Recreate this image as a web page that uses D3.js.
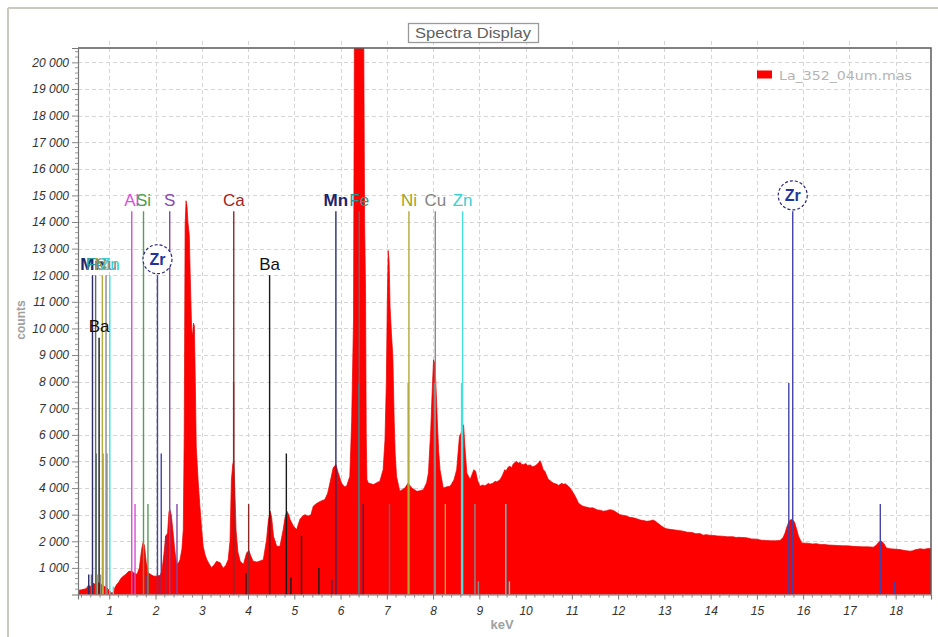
<!DOCTYPE html>
<html><head><meta charset="utf-8">
<script src="https://cdn.jsdelivr.net/npm/d3@7"></script>
<style>body{margin:0;background:#fff;} svg{display:block;}</style>
</head><body>
<svg id="c" width="938" height="637"></svg>
<script>
// ---------- data ----------
// spectrum: [keV, counts]
const spectrum = [
[0.32,150],[0.40,180],[0.50,220],[0.55,350],[0.60,300],[0.65,420],[0.70,380],[0.75,450],[0.80,400],[0.85,350],[0.90,300],[0.95,250],[1.00,150],[1.05,60],[1.10,80],
[1.12,250],[1.16,380],[1.20,450],[1.25,600],[1.30,690],[1.36,760],[1.42,870],[1.48,880],[1.54,800],[1.60,760],[1.65,1000],[1.70,1700],[1.73,1950],[1.76,1850],[1.80,1200],[1.84,820],
[1.90,750],[1.95,700],[2.00,690],[2.05,700],[2.10,720],[2.14,900],[2.18,1500],[2.22,2200],[2.26,2300],[2.29,3100],[2.31,3200],[2.34,3000],[2.38,2330],[2.42,1600],[2.46,1130],
[2.50,1200],[2.53,1310],[2.57,1700],[2.60,2440],[2.62,6000],[2.64,13900],[2.66,14800],[2.68,14600],[2.70,14000],[2.73,13500],[2.75,12000],[2.78,10000],[2.80,9700],[2.82,10200],[2.84,10100],[2.86,8000],[2.88,5570],
[2.92,4300],[2.96,3300],[3.00,2400],[3.03,1810],[3.07,1500],[3.11,1310],[3.16,1150],[3.21,1010],[3.26,1100],[3.32,1250],[3.36,1220],[3.40,1190],[3.44,1050],[3.47,1000],[3.52,1100],[3.57,1310],
[3.61,2000],[3.64,4300],[3.67,4900],[3.69,5000],[3.71,4200],[3.74,2440],[3.78,1600],[3.83,1250],[3.90,1130],[3.97,1570],[4.02,1650],[4.06,1450],[4.11,1250],[4.19,1220],[4.26,1260],[4.33,1310],
[4.40,2060],[4.44,2800],[4.48,3130],[4.51,2900],[4.55,2190],[4.62,1810],[4.69,1810],[4.76,2440],[4.80,2900],[4.84,3130],[4.88,3000],[4.91,2820],[4.98,2570],[5.05,2440],[5.12,2820],[5.18,2950],
[5.23,3000],[5.30,2950],[5.36,3000],[5.41,3320],[5.48,3420],[5.56,3500],[5.66,3570],[5.72,3800],[5.77,4190],[5.84,4760],[5.90,4880],[5.95,4570],[6.02,4190],[6.08,4050],[6.13,4070],[6.20,4440],
[6.24,6500],[6.28,10330],[6.30,21500],[6.40,30000],[6.50,21500],[6.52,14000],[6.54,11500],[6.555,6000],[6.57,4320],[6.60,4190],[6.71,4130],[6.78,4200],[6.85,4260],[6.92,4690],[6.96,5800],
[6.99,8000],[7.01,11000],[7.03,12930],[7.05,12500],[7.07,10830],[7.10,9800],[7.13,8950],[7.16,6500],[7.18,5330],[7.21,4440],[7.28,3880],[7.34,3950],[7.39,4000],[7.46,4190],[7.50,4100],[7.54,4000],
[7.65,3880],[7.72,3900],[7.79,3940],[7.86,4200],[7.90,4570],[7.95,6200],[7.98,7600],[8.01,8820],[8.04,8700],[8.07,7500],[8.09,6570],[8.12,5400],[8.15,4690],[8.22,4000],[8.30,4050],[8.37,4070],
[8.45,4300],[8.51,4690],[8.57,5940],[8.62,6130],[8.66,6380],[8.69,5500],[8.73,4570],[8.80,4320],[8.84,4500],[8.88,4690],[8.92,4630],[8.96,4300],
[9.01,4070],[9.08,4120],[9.12,4080],[9.16,4130],[9.20,4180],[9.23,4140],[9.30,4190],[9.34,4260],[9.38,4230],[9.45,4320],[9.50,4480],[9.55,4690],[9.58,4650],[9.62,4780],[9.66,4820],[9.70,4760],
[9.73,4900],[9.77,4960],[9.81,5000],[9.85,4930],[9.88,4970],[9.92,4890],[9.95,4880],[10.00,4920],[10.04,4850],[10.10,4870],[10.15,4800],[10.20,4830],[10.24,4880],[10.28,4950],[10.31,5030],
[10.34,4920],[10.38,4700],[10.42,4620],[10.46,4450],[10.49,4330],[10.53,4280],[10.57,4220],[10.60,4190],[10.64,4160],[10.67,4150],[10.71,4100],[10.74,4130],[10.78,4180],[10.82,4140],[10.86,4160],
[10.89,4120],[10.93,4060],[10.96,4000],[11.00,3900],[11.03,3820],[11.07,3700],[11.10,3600],[11.14,3450],[11.18,3380],[11.23,3330],[11.28,3300],[11.33,3280],[11.39,3250],[11.45,3260],[11.50,3220],
[11.55,3180],[11.61,3170],[11.68,3130],[11.75,3150],[11.82,3190],[11.90,3160],[11.97,3080],[12.04,3000],[12.10,2980],[12.18,2950],[12.25,2900],[12.33,2880],[12.40,2850],[12.48,2800],[12.55,2780],
[12.62,2750],[12.70,2770],[12.75,2800],[12.80,2760],[12.86,2680],[12.94,2570],[13.00,2500],[13.05,2470],[13.12,2450],[13.20,2430],[13.30,2410],[13.41,2380],[13.50,2340],[13.60,2330],[13.68,2280],
[13.77,2290],[13.84,2230],[13.90,2250],[13.98,2230],[14.06,2220],[14.15,2200],[14.25,2190],[14.36,2170],[14.49,2170],[14.55,2140],[14.60,2150],[14.70,2140],[14.78,2130],[14.88,2090],[15.00,2080],
[15.10,2040],[15.21,2030],[15.30,2020],[15.40,2020],[15.50,2030],[15.57,2150],[15.61,2320],[15.65,2550],[15.68,2690],[15.72,2800],[15.75,2820],[15.79,2780],[15.82,2690],[15.86,2450],[15.90,2190],
[15.97,1940],[16.05,1930],[16.10,1930],[16.20,1900],[16.29,1910],[16.37,1880],[16.45,1880],[16.55,1860],[16.65,1850],[16.75,1840],[16.85,1830],[16.95,1830],[17.08,1810],[17.18,1800],[17.30,1790],
[17.40,1790],[17.52,1780],[17.58,1850],[17.62,1940],[17.66,2000],[17.70,2000],[17.75,1900],[17.80,1750],[17.88,1720],[17.95,1710],[18.02,1700],[18.09,1690],[18.20,1650],[18.31,1630],[18.37,1640],
[18.42,1680],[18.48,1700],[18.53,1720],[18.60,1700],[18.65,1710],[18.70,1730],[18.77,1720]];

const yTicks = d3.range(1000, 20001, 1000);
const xTicks = d3.range(1, 19);

// element marker lines (KLM lines)
const lineElement = ["Mn","Fe","Ba","Ni","Cu","Zn","Mn","Fe","Fe","Ni","Cu","Zn","Zr",
  "Al","Al","Si","Si","Zr","Zr","Zr","S","S","Ca","Ca","Ca","Ba","Ba","Ba","Ba","Ba","Ba",
  "Mn","Mn","Mn","Fe","Fe","Fe","Ni","Ni","Ni","Cu","Cu","Cu","Cu","Zn","Zn","Zn","Zn",
  "Zr","Zr","Zr","Zr","Ni","Cu"];
const lineKeV = [0.637,0.705,0.780,0.851,0.930,1.012,0.556,0.615,0.718,0.868,0.950,1.087,1.792,
  1.486,1.557,1.740,1.836,2.042,2.124,2.219,2.307,2.464,3.691,3.688,4.013,3.954,4.466,4.828,4.926,5.156,5.531,
  5.810,5.899,6.490,6.404,6.391,7.058,7.478,7.461,8.265,8.048,8.028,8.905,8.980,8.639,8.616,9.572,9.650,
  15.690,15.775,17.668,17.980,0.743,0.811];
const lineCounts = [12000,12000,9650,12000,12000,12000,750,750,5300,5300,5300,300,700,
  14400,3400,14400,3400,12000,5300,2200,14400,3400,14400,7950,3400,800,12000,5300,650,2200,1000,
  550,14400,3400,14400,7950,3400,14400,7950,3400,14400,7950,3400,500,14400,7950,3400,500,
  7950,14400,3400,500,750,750];

// labels above the main lines
const labelText = ["Mn","Fe","Ni","Cu","Zn","Ba","Al","Si","S","Zr","Ca","Ba","Mn","Fe","Ni","Cu","Zn","Zr"];
const labelKeV = [0.637,0.705,0.851,0.930,1.012,0.780,1.486,1.740,2.307,2.042,3.691,4.466,5.899,6.404,7.478,8.048,8.639,15.775];
const labelCounts = [12000,12000,12000,12000,12000,9650,14400,14400,14400,12000,14400,12000,14400,14400,14400,14400,14400,14400];
const labelCircled = [false,false,false,false,false,false,false,false,false,true,false,false,false,false,false,false,false,true];

const legendLabel = "La_352_04um.mas";
const titleText = "Spectra Display";

// ---------- styles ----------
const labelColor = {Al:"#d94fd9",Si:"#4c9c4c",S:"#8a48aa",Ca:"#a32424",Ba:"#111111",Mn:"#22226a",
  Fe:"#2c9595",Ni:"#9f9f2e",Cu:"#858585",Zn:"#3ccfcf",Zr:"#22349a"};
const lineColor = {Al:"#d050d0",Si:"#5a9a5a",S:"#7d4aa8",Ca:"#8c2a2a",Ba:"#1a1a1a",Mn:"#2a2a66",
  Fe:"#5c6c70",Ni:"#b4a83a",Cu:"#8a8a8a",Zn:"#48dede",Zr:"#4343a8"};

const W = 938, H = 637;
const plot = {left:78, right:931, top:48, bottom:594.5};

const svg = d3.select("#c");
const x = d3.scaleLinear().domain([0.324, 18.764]).range([plot.left, plot.right]);
const y = d3.scaleLinear().domain([0, 20540]).range([plot.bottom, plot.top]);

// outer panel frame
svg.append("line").attr("x1",8).attr("x2",8).attr("y1",8).attr("y2",H).attr("stroke","#c9c9bd").attr("stroke-width",2);
svg.append("line").attr("x1",8).attr("x2",W).attr("y1",8).attr("y2",8).attr("stroke","#c9c9bd").attr("stroke-width",2);

// grid
const grid = svg.append("g").attr("stroke","#d6d6d6").attr("stroke-dasharray","4,3").attr("stroke-width",1);
grid.selectAll("line.v").data(xTicks).join("line").attr("class","v")
  .attr("x1",d=>Math.round(x(d))+0.5).attr("x2",d=>Math.round(x(d))+0.5)
  .attr("y1",41).attr("y2",plot.bottom);
grid.selectAll("line.h").data(yTicks).join("line").attr("class","h")
  .attr("x1",plot.left).attr("x2",plot.right)
  .attr("y1",d=>Math.round(y(d))+0.5).attr("y2",d=>Math.round(y(d))+0.5);

// title box
svg.append("rect").attr("x",408.5).attr("y",23.5).attr("width",130).attr("height",19)
  .attr("fill","#fff").attr("stroke","#9a9a9a").attr("stroke-width",1.3);
svg.append("text").attr("x",473).attr("y",38).attr("text-anchor","middle")
  .attr("font-family","'Liberation Sans Narrow','Arial Narrow','Liberation Sans',sans-serif")
  .attr("font-size",15).attr("fill","#606060").attr("textLength",116).attr("lengthAdjust","spacingAndGlyphs").text(titleText);

// clip
svg.append("clipPath").attr("id","clip").append("rect")
  .attr("x",plot.left).attr("y",plot.top).attr("width",plot.right-plot.left).attr("height",plot.bottom-plot.top);

// spectrum
const area = d3.area().x(d=>x(d[0])).y0(y(0)).y1(d=>y(d[1]));
svg.append("path").datum(spectrum).attr("clip-path","url(#clip)")
  .attr("d",area).attr("fill","#ff0000").attr("stroke","#e60000").attr("stroke-width",0.7);

// marker lines
const lines = lineKeV.map((k,i)=>({el:lineElement[i],k,c:lineCounts[i]}));
svg.append("g").attr("clip-path","url(#clip)").selectAll("line").data(lines).join("line")
  .attr("x1",d=>x(d.k)).attr("x2",d=>x(d.k))
  .attr("y1",y(0)).attr("y2",d=>y(d.c))
  .attr("stroke",d=>lineColor[d.el]).attr("stroke-width",1.4);

// labels
const labels = labelText.map((t,i)=>({t,k:labelKeV[i],c:labelCounts[i],circ:labelCircled[i]}));
const lg = svg.append("g").attr("font-family","'Liberation Sans',Arial,sans-serif");
labels.forEach(d=>{
  const cx = x(d.k), top = y(d.c);
  if (d.circ) {
    const cy = top - 16;
    lg.append("circle").attr("cx",cx).attr("cy",cy).attr("r",14.5)
      .attr("fill","#fff").attr("stroke","#2a2a7a").attr("stroke-width",1.2).attr("stroke-dasharray","3,2");
    lg.append("text").attr("x",cx).attr("y",cy+6).attr("text-anchor","middle")
      .attr("font-size",16).attr("font-weight","bold").attr("fill",labelColor[d.t]).text(d.t);
  } else {
    lg.append("text").attr("x",cx).attr("y",top-5.5).attr("text-anchor","middle")
      .attr("font-size",17).attr("font-weight", d.t==="Mn" ? "bold" : "normal")
      .attr("fill",labelColor[d.t]).text(d.t);
  }
});

// frame (top/right)
svg.append("path").attr("d",`M${plot.left},${plot.top}H${plot.right}V${plot.bottom}`)
  .attr("fill","none").attr("stroke","#5a5a5a").attr("stroke-width",1.5);

// axes
const yAxis = d3.axisLeft(y).tickValues(yTicks).tickSize(6).tickPadding(3)
  .tickFormat(d=>d3.format(",")(d).replace(/,/g," "));
const gy = svg.append("g").attr("transform",`translate(${plot.left},0)`).call(yAxis);
gy.select(".domain").attr("stroke","#777").attr("stroke-width",1.2);
gy.selectAll(".tick line").attr("stroke","#888");
gy.selectAll(".tick text").attr("font-family","'Liberation Sans',Arial,sans-serif").attr("font-size",12)
  .attr("font-style","italic").attr("fill","#333");
const yMinor = d3.range(200, 20540, 200).filter(v=>v%1000!==0);
svg.append("g").selectAll("line").data(yMinor).join("line")
  .attr("x1",plot.left-3).attr("x2",plot.left).attr("y1",d=>y(d)).attr("y2",d=>y(d)).attr("stroke","#999");

const xAxis = d3.axisBottom(x).tickValues(xTicks).tickSize(5).tickPadding(7).tickFormat(d3.format("d"));
const gx = svg.append("g").attr("transform",`translate(0,${plot.bottom})`).call(xAxis);
gx.select(".domain").attr("stroke","#777").attr("stroke-width",1.2);
gx.selectAll(".tick line").attr("stroke","#777");
gx.selectAll(".tick text").attr("font-family","'Liberation Sans',Arial,sans-serif").attr("font-size",12)
  .attr("font-style","italic").attr("fill","#333");
const xMinor = d3.range(0.4, 18.77, 0.2).filter(v=>Math.abs(v-Math.round(v))>0.01);
svg.append("g").selectAll("line").data(xMinor).join("line")
  .attr("x1",d=>x(d)).attr("x2",d=>x(d)).attr("y1",plot.bottom).attr("y2",plot.bottom+3).attr("stroke","#888");

// axis titles
svg.append("text").attr("transform","translate(25,320) rotate(-90)").attr("text-anchor","middle")
  .attr("font-family","'Liberation Sans',Arial,sans-serif").attr("font-size",12).attr("font-weight","bold")
  .attr("fill","#a0a0a0").text("counts");
svg.append("text").attr("x",502).attr("y",629).attr("text-anchor","middle")
  .attr("font-family","'Liberation Sans',Arial,sans-serif").attr("font-size",13).attr("font-weight","bold")
  .attr("fill","#a0a0a0").text("keV");

// legend
svg.append("rect").attr("x",757).attr("y",70.5).attr("width",15).attr("height",8).attr("fill","#ff0000");
svg.append("text").attr("x",779).attr("y",80).attr("font-family","'DejaVu Sans',Verdana,sans-serif")
  .attr("font-size",12.5).attr("fill","#b4b4b4").attr("textLength",133).attr("lengthAdjust","spacingAndGlyphs").text(legendLabel);
</script>
</body></html>
